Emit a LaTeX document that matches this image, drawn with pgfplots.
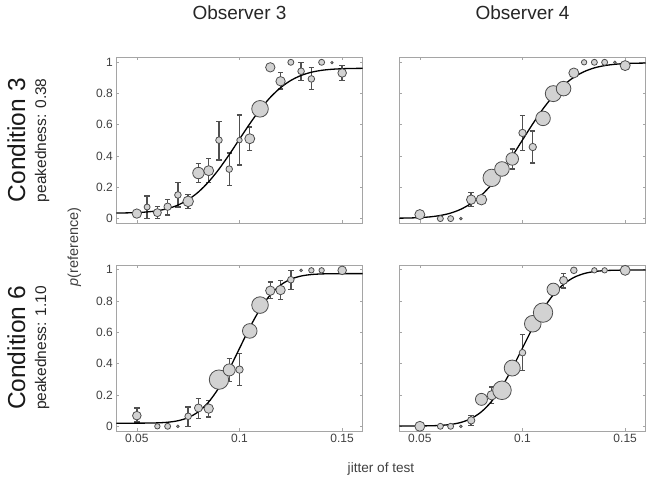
\documentclass[border=0pt]{standalone}
\usepackage{pgfplots}
\pgfplotsset{compat=1.18}
\usepackage{pgfplotstable}
\usepackage{fontspec}
\setmainfont{Liberation Sans}
\definecolor{mkfill}{RGB}{210,210,210}
\definecolor{mkedge}{RGB}{77,77,77}
\definecolor{errc}{RGB}{80,80,80}
\definecolor{axc}{RGB}{165,165,165}
\definecolor{tlc}{RGB}{64,64,64}

% ---------- Observer 3, Condition 3 ----------
\pgfplotstableread{
x y r
0.050 0.032 4.7
0.055 0.074 3.0
0.060 0.038 4.0
0.065 0.076 3.7
0.070 0.151 3.3
0.075 0.110 5.3
0.080 0.291 5.7
0.085 0.306 5.0
0.090 0.501 3.3
0.095 0.316 3.3
0.100 0.501 2.7
0.105 0.510 5.0
0.110 0.701 8.3
0.115 0.966 4.7
0.120 0.877 4.7
0.125 0.998 3.0
0.130 0.941 3.3
0.135 0.892 3.3
0.140 0.998 3.0
0.145 0.996 1.2
0.150 0.930 4.3
}\ptsA
\pgfplotstableread{
x y ep em
0.055 0.074 0.070 0.072
0.060 0.038 0.038 0.036
0.065 0.076 0.047 0.053
0.070 0.151 0.080 0.076
0.075 0.110 0.043 0.044
0.080 0.291 0.060 0.061
0.085 0.306 0.076 0.077
0.090 0.501 0.120 0.126
0.095 0.316 0.104 0.106
0.100 0.501 0.160 0.160
0.105 0.510 0.074 0.075
0.120 0.877 0.057 0.049
0.130 0.941 0.054 0.059
0.135 0.892 0.072 0.066
0.150 0.930 0.047 0.049
}\errA
\pgfplotstableread{
x y
0.040 0.0356
0.045 0.0365
0.050 0.0384
0.055 0.0425
0.060 0.0502
0.065 0.0638
0.070 0.0862
0.075 0.1208
0.080 0.1700
0.085 0.2354
0.090 0.3159
0.095 0.4087
0.100 0.5075
0.105 0.6055
0.110 0.6964
0.115 0.7741
0.120 0.8361
0.125 0.8822
0.130 0.9141
0.135 0.9346
0.140 0.9468
0.145 0.9535
0.150 0.9570
0.155 0.9588
0.160 0.9595
}\fitA

% ---------- Observer 4, Condition 3 ----------
\pgfplotstableread{
x y r
0.050 0.026 5.0
0.060 0.000 3.0
0.065 0.000 3.0
0.070 0.000 1.3
0.075 0.121 4.7
0.080 0.121 5.3
0.085 0.260 8.7
0.090 0.317 7.3
0.095 0.381 6.3
0.100 0.547 3.7
0.105 0.457 3.7
0.110 0.640 7.3
0.115 0.798 8.0
0.120 0.830 7.3
0.125 0.930 5.0
0.130 0.998 2.7
0.135 0.998 3.0
0.140 0.998 3.0
0.145 0.998 1.3
0.150 0.977 5.0
}\ptsB
\pgfplotstableread{
x y ep em
0.075 0.121 0.047 0.042
0.095 0.381 0.064 0.064
0.100 0.547 0.113 0.111
0.105 0.457 0.103 0.102
}\errB
\pgfplotstableread{
x y
0.040 0.0028
0.045 0.0040
0.050 0.0064
0.055 0.0111
0.060 0.0200
0.065 0.0352
0.070 0.0599
0.075 0.0971
0.080 0.1495
0.085 0.2183
0.090 0.3026
0.095 0.3989
0.100 0.5022
0.105 0.6051
0.110 0.7008
0.115 0.7838
0.120 0.8513
0.125 0.9023
0.130 0.9384
0.135 0.9624
0.140 0.9769
0.145 0.9854
0.150 0.9899
0.155 0.9922
0.160 0.9932
}\fitB

% ---------- Observer 3, Condition 6 ----------
\pgfplotstableread{
x y r
0.050 0.068 4.3
0.060 0.000 2.7
0.065 0.000 3.0
0.070 0.000 1.3
0.075 0.064 3.3
0.080 0.117 4.0
0.085 0.113 4.7
0.090 0.298 9.7
0.095 0.360 6.0
0.100 0.362 3.7
0.105 0.609 7.3
0.110 0.774 8.3
0.115 0.866 4.7
0.120 0.870 4.7
0.125 0.936 3.3
0.130 0.996 1.3
0.135 0.996 2.7
0.140 0.996 2.7
0.150 0.996 4.3
}\ptsC
\pgfplotstableread{
x y ep em
0.050 0.068 0.049 0.040
0.075 0.064 0.059 0.064
0.080 0.117 0.060 0.068
0.085 0.113 0.053 0.053
0.095 0.360 0.072 0.073
0.100 0.362 0.102 0.100
0.115 0.866 0.055 0.051
0.120 0.870 0.062 0.061
0.125 0.936 0.060 0.064
}\errC
\pgfplotstableread{
x y
0.040 0.0200
0.045 0.0200
0.050 0.0202
0.055 0.0206
0.060 0.0220
0.065 0.0259
0.070 0.0354
0.075 0.0554
0.080 0.0931
0.085 0.1556
0.090 0.2468
0.095 0.3643
0.100 0.4975
0.105 0.6307
0.110 0.7482
0.115 0.8394
0.120 0.9019
0.125 0.9396
0.130 0.9596
0.135 0.9691
0.140 0.9730
0.145 0.9744
0.150 0.9748
0.155 0.9750
0.160 0.9750
}\fitC

% ---------- Observer 4, Condition 6 ----------
\pgfplotstableread{
x y r
0.050 0.000 5.0
0.060 0.000 3.0
0.065 0.000 3.0
0.070 0.000 1.3
0.075 0.038 3.7
0.080 0.172 6.0
0.085 0.198 4.7
0.090 0.230 9.3
0.095 0.372 8.0
0.100 0.470 3.3
0.105 0.655 8.3
0.110 0.726 9.7
0.115 0.874 6.3
0.120 0.932 4.0
0.125 0.996 3.3
0.135 0.996 2.7
0.140 0.996 2.7
0.150 0.996 5.0
}\ptsD
\pgfplotstableread{
x y ep em
0.075 0.038 0.032 0.032
0.085 0.198 0.053 0.053
0.100 0.470 0.115 0.113
0.120 0.932 0.042 0.049
}\errD
\pgfplotstableread{
x y
0.040 0.0020
0.045 0.0021
0.050 0.0024
0.055 0.0033
0.060 0.0058
0.065 0.0118
0.070 0.0247
0.075 0.0496
0.080 0.0928
0.085 0.1601
0.090 0.2534
0.095 0.3701
0.100 0.5000
0.105 0.6299
0.110 0.7466
0.115 0.8400
0.120 0.9072
0.125 0.9504
0.130 0.9753
0.135 0.9883
0.140 0.9942
0.145 0.9966
0.150 0.9975
0.155 0.9979
0.160 0.9980
}\fitD

\pgfplotsset{
  panel/.style={
    scale only axis, width=246.4pt, height=166pt,
    xmin=0.04, xmax=0.16, ymin=-0.03, ymax=1.03,
    xtick={0.05,0.1,0.15}, ytick={0,0.2,0.4,0.6,0.8,1},
    xticklabels={0.05,0.1,0.15}, yticklabels={0,0.2,0.4,0.6,0.8,1},
    tick align=inside, major tick length=3pt,
    axis line style={draw=axc, line width=0.6pt},
    every tick/.style={draw=axc, line width=0.6pt},
    tick label style={font=\fontsize{12}{14}\selectfont, text=tlc},
    /pgf/number format/assume math mode=true,
    clip marker paths=false,
  },
  noxlab/.style={xticklabels={}},
  noylab/.style={yticklabels={}},
  pts/.style={scatter, only marks, mark=*,
    scatter/use mapped color={draw=mkedge, fill=mkfill},
    visualization depends on={\thisrow{r} \as \rr},
    scatter/@pre marker code/.append style={/tikz/mark size=\rr},
    mark options={line width=0.8pt}},
  errs/.style={color=errc, line width=1.4pt, only marks, mark=none, forget plot,
    error bars/.cd, y dir=both, y explicit,
    error bar style={line width=1.4pt, color=errc, solid},
    error mark=|,
    error mark options={line width=1.4pt, color=errc, mark size=2.7pt}},
  fitline/.style={black, line width=1.3pt, smooth, mark=none},
}

\begin{document}
\begin{tikzpicture}[x=1pt,y=1pt]
\useasboundingbox (0,0) rectangle (651,483);

% top-left
\begin{axis}[panel, noxlab, at={(116.3pt,259.7pt)}, anchor=south west]
\addplot[errs] table[x=x, y=y, y error plus=ep, y error minus=em] {\errA};
\addplot[pts] table[x=x, y=y] {\ptsA};
\addplot[fitline] table[x=x, y=y] {\fitA};
\end{axis}

% top-right
\begin{axis}[panel, noxlab, noylab, at={(399.3pt,259.7pt)}, anchor=south west]
\addplot[errs] table[x=x, y=y, y error plus=ep, y error minus=em] {\errB};
\addplot[pts] table[x=x, y=y] {\ptsB};
\addplot[fitline] table[x=x, y=y] {\fitB};
\end{axis}

% bottom-left
\begin{axis}[panel, at={(116.3pt,52pt)}, anchor=south west]
\addplot[errs] table[x=x, y=y, y error plus=ep, y error minus=em] {\errC};
\addplot[pts] table[x=x, y=y] {\ptsC};
\addplot[fitline] table[x=x, y=y] {\fitC};
\end{axis}

% bottom-right
\begin{axis}[panel, noylab, at={(399.3pt,52pt)}, anchor=south west]
\addplot[errs] table[x=x, y=y, y error plus=ep, y error minus=em] {\errD};
\addplot[pts] table[x=x, y=y] {\ptsD};
\addplot[fitline] table[x=x, y=y] {\fitD};
\end{axis}

% titles and labels
\node[anchor=base, font=\fontsize{19}{22}\selectfont, text=black!85] at (239.5,463.7) {Observer 3};
\node[anchor=base, font=\fontsize{19}{22}\selectfont, text=black!85] at (522.5,463.7) {Observer 4};
\node[rotate=90, anchor=base, font=\fontsize{24.5}{28}\selectfont, text=black!90] at (25,342.7) {Condition 3};
\node[rotate=90, anchor=base, font=\fontsize{15.5}{18}\selectfont, text=black!85] at (46,342.7) {peakedness: 0.38};
\node[rotate=90, anchor=base, font=\fontsize{24.5}{28}\selectfont, text=black!90] at (25,135) {Condition 6};
\node[rotate=90, anchor=base, font=\fontsize{15.5}{18}\selectfont, text=black!85] at (46,135) {peakedness: 1.10};
\node[rotate=90, anchor=base, font=\fontsize{14.5}{17}\selectfont, text=tlc] at (78,236) {\textit{p}(reference)};
\node[anchor=base, font=\fontsize{13.6}{16}\selectfont, text=tlc] at (381,11) {jitter of test};
\end{tikzpicture}
\end{document}
